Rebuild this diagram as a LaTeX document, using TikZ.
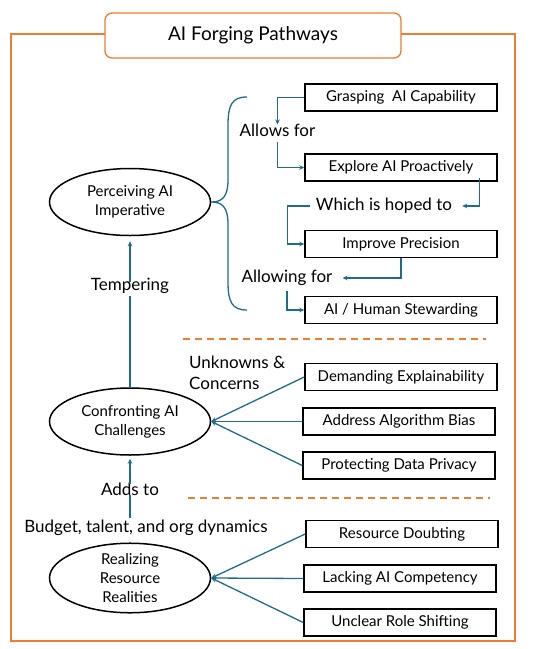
\documentclass[tikz,border=0pt]{standalone}
\usepackage{fontspec}
\setmainfont{Lato}
\usetikzlibrary{arrows.meta,shapes.geometric,positioning,calc}
\definecolor{frameorange}{HTML}{ED7D31}
\definecolor{linkblue}{HTML}{1F6C8C}
\begin{document}
\begin{tikzpicture}
  [x=1pt,y=-1pt,>={Stealth[length=5pt,width=4.5pt]},
   box/.style={rectangle,draw=black,line width=1.5pt,minimum width=192pt,minimum height=27pt,inner sep=0pt,font=\fontsize{15}{17}\selectfont},
   theme/.style={ellipse,draw=black,line width=1.5pt,minimum width=161pt,minimum height=67pt,inner sep=0pt,align=center,font=\fontsize{15}{19}\selectfont},
   verb/.style={font=\fontsize{17}{21}\selectfont,inner sep=2pt},
   link/.style={draw=linkblue,line width=1.3pt},
   split/.style={draw=frameorange,line width=1.5pt,dash pattern=on 7pt off 5pt}]

  \useasboundingbox (0,0) rectangle (550,649);

  % frame and title
  \draw [frameorange,line width=1.3pt] (11,34) rectangle (515,641);
  \node (title) [rectangle,rounded corners=7pt,draw=frameorange,line width=1.3pt,fill=white,
    minimum width=296pt,minimum height=45pt,font=\fontsize{19}{23}\selectfont] at (253,35.5) {AI Forging Pathways};

  % themes
  \node [theme] (perc) at (130,202) {Perceiving AI\\Imperative};
  \node [theme] (conf) at (130,421.5) {Confronting AI\\Challenges};
  \node [theme] (real) at (130,578) {Realizing\\Resource\\Realities};

  % first group
  \node [box] (grasp) at (401,97.5) {Grasping\ \ AI Capability};
  \node [box] (expl)  at (401,167.5) {Explore AI Proactively};
  \node [box] (impr)  at (401,244) {Improve Precision};
  \node [box] (stew)  at (401,310) {AI / Human Stewarding};

  \node [verb] (allow)  at (277.5,130) {Allows for};
  \node [verb] (hoped)  at (384,206) {Which is hoped to};
  \node [verb] (allowg) at (287,278) {Allowing for};

  \draw [link,->] (grasp.west) -| ([yshift=-3pt]allow.north);
  \draw [link,->,shorten <=3pt] (allow.south) |- (expl.west);
  \draw [link,->,shorten >=8pt] ([xshift=-18pt,yshift=4pt]expl.south east) |- (hoped.east);
  \draw [link,->] ([xshift=-4pt]hoped.west) -| ++(-22,0) |- (impr.west);
  \draw [link,->,shorten >=8pt] (impr.south) |- (allowg.east);
  \draw [link,->,shorten <=3pt] (allowg.south) |- (stew.west);

  % brace
  \draw [link] (247,97) .. controls (232,97) and (228,105) .. (228,125)
    -- (228,180) .. controls (228,197) and (222,202) .. (perc.east)
    .. controls (222,202) and (228,207) .. (228,224)
    -- (228,282) .. controls (228,302) and (232,310) .. (247,310);

  % second group
  \node [box] (expla) at (401,377) {Demanding Explainability};
  \node [box] (bias)  at (399,421.5) {Address Algorithm Bias};
  \node [box] (priv)  at (399,465.5) {Protecting Data Privacy};
  \node [verb,align=left,anchor=north west] (unkn) at (187,354) {Unknowns \&\\Concerns};
  \foreach \b in {expla,bias,priv}
    \draw [link,->] (\b.west) -- (conf.east);

  % third group
  \node [box] (doubt) at (402,534) {Resource Doubting};
  \node [box] (comp)  at (400,578.5) {Lacking AI Competency};
  \node [box] (role)  at (400,622.5) {Unclear Role Shifting};
  \foreach \b in {doubt,comp,role}
    \draw [link,->] (\b.west) -- (real.east);

  % between themes
  \node [verb] (temp) at (130,286) {Tempering};
  \node [verb] (adds) at (130,489) {Adds to};
  \node [verb] (budg) at (146,528) {Budget, talent, and org dynamics};
  \draw [link] (conf.north) -- (temp.south);
  \draw [link,->,shorten >=5pt] ([yshift=-6pt]temp.north) -- (perc.south);
  \draw [link] (budg.north -| conf.south) -- ([yshift=3pt]adds.south);
  \draw [link,->,shorten >=3pt] ([yshift=-4pt]adds.north) -- (conf.south);

  % separators
  \draw [split] (183,339) -- (486,339);
  \draw [split] (188,498) -- (490,498);

\end{tikzpicture}
\end{document}
